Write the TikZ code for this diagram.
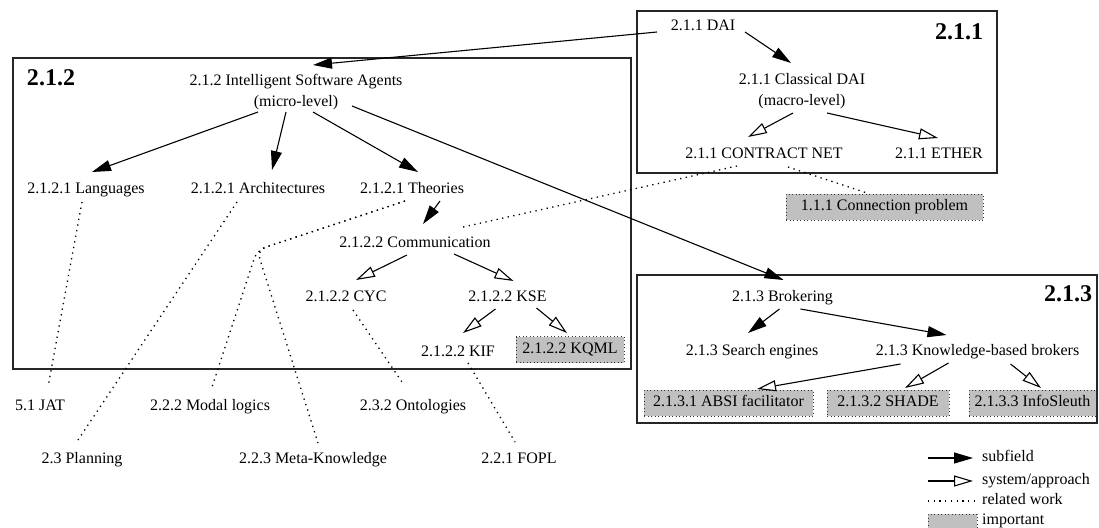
\documentclass[tikz,border=0pt]{standalone}
\usepackage{fontspec}
\setmainfont{Liberation Serif}
\usetikzlibrary{arrows.meta}
\definecolor{impgray}{HTML}{C0C0C0}
\begin{document}
\begin{tikzpicture}[x=1pt,y=-1pt,
  lbl/.style={font=\fontsize{16}{21}\selectfont, inner sep=0pt, align=center, text height=11pt, text depth=3.5pt},
  lbl2/.style={font=\fontsize{16}{21}\selectfont, inner sep=0pt, align=center},
  imp/.style={lbl, draw=black!80, line width=0.9pt, dash pattern=on 0.9pt off 2.6pt, fill=impgray, minimum height=26pt},
  sub/.style={line width=1.1pt, -{Triangle[length=19pt,width=11pt]}},
  sys/.style={line width=1.1pt, -{Triangle[open,length=19pt,width=11pt,line width=1.1pt]}},
  rel/.style={line width=1.3pt, dash pattern=on 1.3pt off 4.4pt},
  cluster/.style={line width=1.4pt, draw=black!85},
  clab/.style={font=\bfseries\fontsize{24}{28}\selectfont, inner sep=0pt}
]
\useasboundingbox (0,0) rectangle (1099,527);

% clusters
\draw[cluster] (637,11) rectangle (997,173);
\draw[cluster] (13,58) rectangle (631,369);
\draw[cluster] (637,275) rectangle (1097,423);
\node[clab] (l211) at (959,32) {2.1.1};
\node[clab] (l212) at (51,78) {2.1.2};
\node[clab] (l213) at (1068,294) {2.1.3};

% 2.1.1
\node[lbl] (dai) at (703,27) {2.1.1 DAI};
\node[lbl2] (cdai) at (802,91) {2.1.1 Classical DAI\\(macro-level)};
\node[lbl] (cnet) at (764,155) {2.1.1 CONTRACT NET};
\node[lbl] (ether) at (939,155) {2.1.1 ETHER};
\node[imp, minimum width=197pt] (conn) at (884.5,207) {1.1.1 Connection problem};

% 2.1.2
\node[lbl2] (isa) at (296,92) {2.1.2 Intelligent Software Agents\\(micro-level)};
\node[lbl] (lang) at (86,190) {2.1.2.1 Languages};
\node[lbl] (arch) at (258,190) {2.1.2.1 Architectures};
\node[lbl] (theo) at (412,190) {2.1.2.1 Theories};
\node[lbl] (comm) at (415,244) {2.1.2.2 Communication};
\node[lbl] (cyc) at (346,298) {2.1.2.2 CYC};
\node[lbl] (kse) at (507.5,298) {2.1.2.2 KSE};
\node[lbl] (kif) at (458,353) {2.1.2.2 KIF};
\node[imp, minimum width=108pt] (kqml) at (570,349.5) {2.1.2.2 KQML};

% 2.1.3
\node[lbl] (brok) at (782.5,298) {2.1.3 Brokering};
\node[lbl] (search) at (752,352) {2.1.3 Search engines};
\node[lbl] (kbb) at (977.5,352) {2.1.3 Knowledge-based brokers};
\node[imp, minimum width=169pt] (absi) at (728.5,403) {2.1.3.1 ABSI facilitator};
\node[imp, minimum width=122pt] (shade) at (888,403) {2.1.3.2 SHADE};
\node[imp, minimum width=127pt] (info) at (1032.5,403) {2.1.3.3 InfoSleuth};

% outside
\node[lbl] (jat) at (40,407) {5.1 JAT};
\node[lbl] (modal) at (210,407) {2.2.2 Modal logics};
\node[lbl] (onto) at (413,407) {2.3.2 Ontologies};
\node[lbl] (plan) at (82,460) {2.3 Planning};
\node[lbl] (meta) at (313,460) {2.2.3 Meta-Knowledge};
\node[lbl] (fopl) at (519,460) {2.2.1 FOPL};

% subfield edges
\draw[sub] ([shift={(-46,5)}]dai.center) -- ([shift={(17,-27)}]isa.center);
\draw[sub] ([shift={(42,5)}]dai.center) -- ([shift={(-11,-28)}]cdai.center);
\draw[sub] ([shift={(-38,20)}]isa.center) -- ([shift={(6,-18)}]lang.center);
\draw[sub] ([shift={(-10,20)}]isa.center) -- ([shift={(14,-20)}]arch.center);
\draw[sub] ([shift={(17,20)}]isa.center) -- ([shift={(6,-18)}]theo.center);
\draw[sub] ([shift={(56,14)}]isa.center) -- ([shift={(1,-18)}]brok.center);
\draw[sub] ([shift={(28,11)}]theo.center) -- ([shift={(8,-20)}]comm.center);
\draw[sub] ([shift={(-3,11)}]brok.center) -- ([shift={(-4,-19)}]search.center);
\draw[sub] ([shift={(18,11)}]brok.center) -- ([shift={(-31,-17)}]kbb.center);

% system/approach edges
\draw[sys] ([shift={(-9,22)}]cdai.center) -- ([shift={(-16,-18)}]cnet.center);
\draw[sys] ([shift={(25,22)}]cdai.center) -- ([shift={(-1,-17)}]ether.center);
\draw[sys] ([shift={(-8,11)}]comm.center) -- ([shift={(10,-18)}]cyc.center);
\draw[sys] ([shift={(39,10)}]comm.center) -- ([shift={(6,-17)}]kse.center);
\draw[sys] ([shift={(-12,11)}]kse.center) -- ([shift={(5,-20)}]kif.center);
\draw[sys] ([shift={(29,10)}]kse.center) -- ([shift={(-3,-16.5)}]kqml.center);
\draw[sys] ([shift={(-77,12)}]kbb.center) -- ([shift={(28.5,-14)}]absi.center);
\draw[sys] ([shift={(-29,11)}]kbb.center) -- ([shift={(17,-15)}]shade.center);
\draw[sys] ([shift={(33,12)}]kbb.center) -- ([shift={(8.5,-15)}]info.center);

% related work
\coordinate (bend) at (257,250);
\draw[rel] ([shift={(-4,12)}]lang.center) -- ([shift={(8,-20)}]jat.center);
\draw[rel] ([shift={(-21,12)}]arch.center) -- ([shift={(-4,-20)}]plan.center);
\draw[rel, rounded corners=9pt] ([shift={(-7,11)}]theo.center) -- (bend) -- ([shift={(2,-20)}]modal.center);
\draw[rel, rounded corners=9pt] ([shift={(-7,11)}]theo.center) -- (bend) -- ([shift={(5,-17)}]meta.center);
\draw[rel] ([shift={(-27,11)}]cnet.center) -- ([shift={(48,-17)}]comm.center);
\draw[rel] ([shift={(24,12)}]cnet.center) -- ([shift={(-17.5,-14)}]conn.center);
\draw[rel] ([shift={(7,12)}]cyc.center) -- ([shift={(-9,-22)}]onto.center);
\draw[rel] ([shift={(10,10)}]kif.center) -- ([shift={(-4,-18)}]fopl.center);

% legend
\coordinate (s1) at (928,458); \coordinate (s2) at (973,458);
\coordinate (a1) at (928,481); \coordinate (a2) at (973,481);
\coordinate (r1) at (928,501); \coordinate (r2) at (975,501);
\draw[sub] (s1) -- (s2);
\draw[sys] (a1) -- (a2);
\draw[rel] (r1) -- (r2);
\node[draw=black!80, line width=0.9pt, dash pattern=on 0.9pt off 2.6pt, fill=impgray, minimum width=49pt, minimum height=14pt, inner sep=0pt] (impbox) at (952.5,521) {};
\node[lbl, anchor=west] (lsub) at (982,458) {subfield};
\node[lbl, anchor=west] (lsys) at (982,481) {system/approach};
\node[lbl, anchor=west] (lrel) at (982,501) {related work};
\node[lbl, anchor=west] (limp) at (982,521) {important};
\end{tikzpicture}
\end{document}
